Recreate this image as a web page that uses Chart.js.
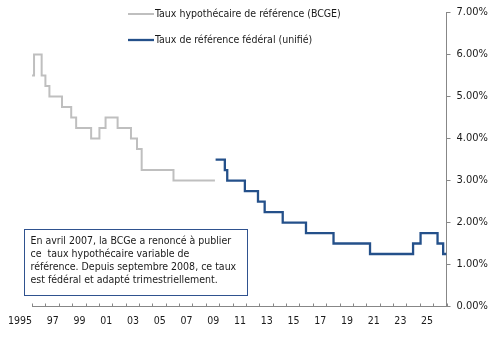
<!DOCTYPE html>
<html>
<head>
<meta charset="utf-8">
<script src="https://cdn.jsdelivr.net/npm/chart.js@4"></script>
<style>
  html, body { margin: 0; padding: 0; background: #ffffff; }
  #wrap { width: 491px; height: 340px; position: relative; }
</style>
</head>
<body>
<div id="wrap"><canvas id="c" width="491" height="340"></canvas></div>
<script>
// ---- data ----
const seriesLabels = ["Taux hypothécaire de référence (BCGE)", "Taux de référence fédéral (unifié)"];
const grayDates = [1995.0, 1995.15, 1995.72, 1996.0, 1996.3, 1997.24, 1997.93, 1998.3, 1999.42, 2000.04, 2000.5, 2001.4, 2002.4, 2002.85, 2003.2, 2005.58, 2008.68];
const grayRates = [5.5, 6.0, 5.5, 5.25, 5.0, 4.75, 4.5, 4.25, 4.0, 4.25, 4.5, 4.25, 4.0, 3.75, 3.25, 3.0, 3.0];
const blueDates = [2008.73, 2009.42, 2009.6, 2010.92, 2011.9, 2012.4, 2013.75, 2015.49, 2017.55, 2020.28, 2023.5, 2024.06, 2025.33, 2025.75, 2026.0];
const blueRates = [3.5, 3.25, 3.0, 2.75, 2.5, 2.25, 2.0, 1.75, 1.5, 1.25, 1.5, 1.75, 1.5, 1.25, 1.25];
const xMin = 1995, xMax = 2026;
const yTicks = [0, 1, 2, 3, 4, 5, 6, 7];
const noteLines = [
  "En avril 2007, la BCGe a renoncé à publier",
  "ce  taux hypothécaire variable de",
  "référence. Depuis septembre 2008, ce taux",
  "est fédéral et adapté trimestriellement."
];

const FONT = 'Tahoma, "DejaVu Sans Condensed", "Liberation Sans", sans-serif';
const AXIS = '#878787';
const TEXT = '#1a1a1a';

const toPts = (xs, ys) => xs.map((x, i) => ({ x: x, y: ys[i] }));

const extras = {
  id: 'extras',
  afterDraw(chart) {
    const ctx = chart.ctx;
    const xs = chart.scales.x;
    const area = chart.chartArea;
    ctx.save();
    // inner tick marks on x axis (every year)
    ctx.strokeStyle = AXIS;
    ctx.lineWidth = 1;
    for (let v = xMin; v <= xMax; v++) {
      const px = Math.round(xs.getPixelForValue(v)) + 0.5;
      ctx.beginPath();
      ctx.moveTo(px, area.bottom);
      ctx.lineTo(px, area.bottom - 3);
      ctx.stroke();
    }
    // legend
    ctx.font = '10.5px ' + FONT;
    ctx.textBaseline = 'middle';
    ctx.textAlign = 'left';
    const legY = [14, 40];
    chart.data.datasets.forEach((ds, i) => {
      ctx.strokeStyle = ds.borderColor;
      ctx.lineWidth = ds.borderWidth;
      ctx.beginPath();
      ctx.moveTo(128, legY[i]);
      ctx.lineTo(154, legY[i]);
      ctx.stroke();
      ctx.fillStyle = TEXT;
      ctx.fillText(ds.label, 155, legY[i] + 0.5);
    });
    // note box
    const bx = 24.5, by = 229.5, bw = 223, bh = 66;
    ctx.fillStyle = '#ffffff';
    ctx.fillRect(bx, by, bw, bh);
    ctx.strokeStyle = '#2F528F';
    ctx.lineWidth = 1;
    ctx.strokeRect(bx, by, bw, bh);
    ctx.fillStyle = TEXT;
    ctx.font = '10.5px ' + FONT;
    noteLines.forEach((t, i) => ctx.fillText(t, 30.5, 241 + i * 13.2));
    ctx.restore();
  }
};

new Chart(document.getElementById('c'), {
  type: 'line',
  data: {
    datasets: [
      {
        label: seriesLabels[0],
        data: toPts(grayDates, grayRates),
        borderColor: '#BFBFBF',
        borderWidth: 2,
        stepped: true,
        pointRadius: 0,
        fill: false
      },
      {
        label: seriesLabels[1],
        data: toPts(blueDates, blueRates),
        borderColor: '#24508A',
        borderWidth: 2.3,
        stepped: true,
        pointRadius: 0,
        fill: false
      }
    ]
  },
  options: {
    responsive: false,
    animation: false,
    events: [],
    layout: { padding: { left: 29.8, top: 12.5, right: 0, bottom: 0 } },
    plugins: { legend: { display: false }, tooltip: { enabled: false }, title: { display: false } },
    scales: {
      x: {
        type: 'linear',
        position: 'bottom',
        min: xMin,
        max: xMax,
        afterBuildTicks(scale) {
          const t = [];
          for (let v = xMin; v <= xMax; v++) t.push({ value: v });
          scale.ticks = t;
        },
        afterFit(scale) { scale.height = 340 - 306.5; },
        grid: { display: false, drawTicks: false },
        border: { display: true, color: AXIS, width: 1 },
        ticks: {
          autoSkip: false,
          maxRotation: 0,
          align: 'end',
          padding: 8,
          color: TEXT,
          font: { family: FONT, size: 10.5 },
          callback(v) {
            if (v % 2 === 0) return '';
            if (v === xMin) return String(v);
            return String(v % 100).padStart(2, '0');
          }
        }
      },
      y: {
        position: 'right',
        min: 0,
        max: 7,
        afterBuildTicks(scale) { scale.ticks = yTicks.map(v => ({ value: v })); },
        afterFit(scale) { scale.width = 491 - 446.5; },
        grid: { display: true, drawOnChartArea: false, drawTicks: true, tickLength: 4, color: AXIS },
        border: { display: true, color: AXIS, width: 1 },
        ticks: {
          padding: 6,
          color: TEXT,
          font: { family: FONT, size: 11 },
          callback(v) { return v.toFixed(2) + '%'; }
        }
      }
    }
  },
  plugins: [extras]
});
</script>
</body>
</html>
